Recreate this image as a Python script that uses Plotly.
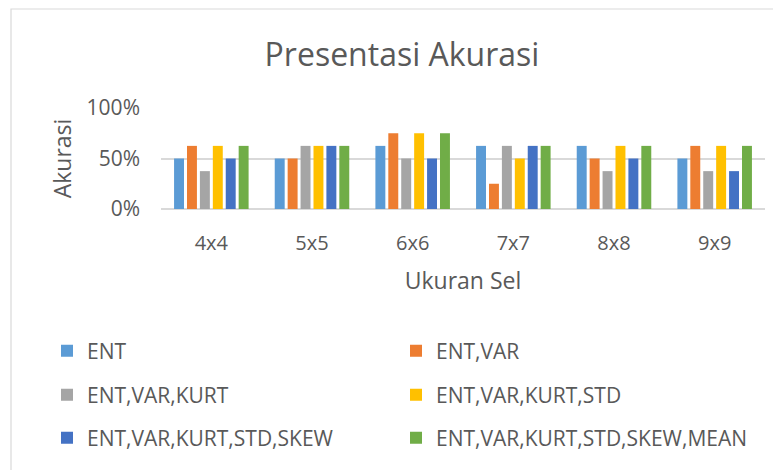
import plotly.graph_objects as go

categories = ["4x4", "5x5", "6x6", "7x7", "8x8", "9x9"]
series_names = ["ENT", "ENT,VAR", "ENT,VAR,KURT", "ENT,VAR,KURT,STD",
                "ENT,VAR,KURT,STD,SKEW", "ENT,VAR,KURT,STD,SKEW,MEAN"]
ent = [50, 50, 62.5, 62.5, 62.5, 50]
ent_var = [62.5, 50, 75, 25, 50, 62.5]
ent_var_kurt = [37.5, 62.5, 50, 62.5, 37.5, 37.5]
ent_var_kurt_std = [62.5, 62.5, 75, 50, 62.5, 62.5]
ent_var_kurt_std_skew = [50, 62.5, 50, 62.5, 50, 37.5]
ent_var_kurt_std_skew_mean = [62.5, 62.5, 75, 62.5, 62.5, 62.5]
series_values = [ent, ent_var, ent_var_kurt, ent_var_kurt_std,
                 ent_var_kurt_std_skew, ent_var_kurt_std_skew_mean]
colors = ["#5B9BD5", "#ED7D31", "#A5A5A5", "#FFC000", "#4472C4", "#70AD47"]
y_tickvals = [0, 50, 100]
y_ticktext = ["0%", "50%", "100%"]

FONT = "Open Sans"
GRAY = "#595959"
W, H = 781, 470
OFF = 8  # page body margin


def fx(x):
    return (x - OFF) / W


def fy(y):
    return (H - (y - OFF)) / H


fig = go.Figure()
legend_ids = ["legend", "legend2", "legend3", "legend4", "legend5", "legend6"]
for name, vals, col, lg in zip(series_names, series_values, colors, legend_ids):
    fig.add_trace(go.Bar(x=categories, y=vals, name=name, marker_color=col,
                         marker_line_width=0, legend=lg))

leg_common = dict(orientation="h",
                  font=dict(family=FONT, size=21, color=GRAY),
                  bgcolor="rgba(0,0,0,0)", xanchor="left", yanchor="middle",
                  itemclick=False)
col_x = [47, 396]
row_y = [351, 395, 438]
legends = {}
for i, lg in enumerate(legend_ids):
    legends[lg] = dict(x=fx(col_x[i % 2]), y=fy(row_y[i // 2]), **leg_common)

fig.update_layout(
    width=W, height=H,
    margin=dict(l=0, r=0, t=0, b=0, autoexpand=False),
    paper_bgcolor="white", plot_bgcolor="white",
    font=dict(family=FONT, color=GRAY),
    title=dict(text="Presentasi Akurasi", x=fx(402), xanchor="center",
               y=fy(55), yanchor="middle",
               font=dict(family=FONT, size=32, color=GRAY)),
    barmode="group", bargap=0.23, bargroupgap=0.23,
    showlegend=True,
    xaxis=dict(domain=[fx(161), fx(765)], showline=False, ticks="",
               ticklabelstandoff=20,
               tickfont=dict(family=FONT, size=20, color=GRAY),
               title=dict(text="Ukuran Sel", font=dict(family=FONT, size=23, color=GRAY),
                          standoff=17)),
    yaxis=dict(domain=[fy(209), fy(108)], range=[0, 100],
               tickvals=y_tickvals, ticktext=y_ticktext,
               showgrid=True, gridcolor="#D9D9D9", gridwidth=1.5, zeroline=True,
               zerolinecolor="#D9D9D9", zerolinewidth=1.5, ticks="",
               ticklabelstandoff=20,
               tickfont=dict(family=FONT, size=21, color=GRAY),
               title=dict(text="Akurasi", font=dict(family=FONT, size=23, color=GRAY),
                          standoff=8)),
    shapes=[dict(type="rect", xref="paper", yref="paper",
                 x0=fx(11), x1=fx(W + 30), y0=fy(H + 30), y1=fy(9),
                 line=dict(color="#D9D9D9", width=1.2), fillcolor="rgba(0,0,0,0)",
                 layer="below")],
    **legends,
)

fig.write_html("out.html")
